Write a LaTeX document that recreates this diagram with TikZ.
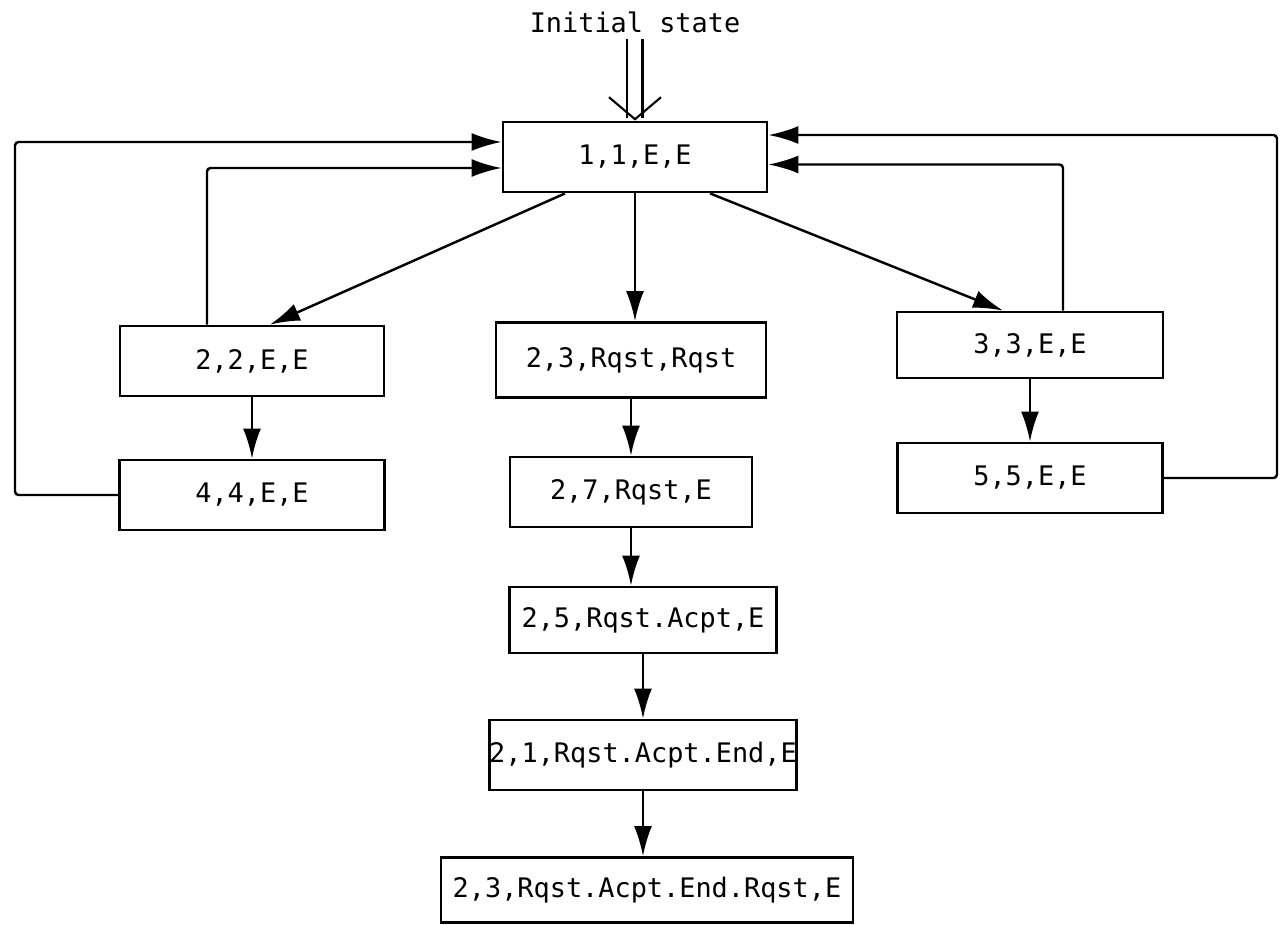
\documentclass[tikz,border=0pt]{standalone}
\usepackage{fontspec}
\setmonofont{DejaVu Sans Mono}
\usetikzlibrary{positioning,calc,arrows.meta}

\begin{document}
\begin{tikzpicture}[node distance=0.2cm,on grid,auto,
  >={Latex[length=6mm,width=3.6mm]},
  box/.style={draw,rectangle,line width=1.6pt,minimum height=1.4cm,inner xsep=0pt,inner ysep=1pt,
    font=\ttfamily\fontsize{15.3}{19}\selectfont},
  link/.style={->,line width=1.4pt,rounded corners=2pt}]
\useasboundingbox (-12.7,3.14) rectangle (12.92,-15.36);
\node[box,minimum width=5.28cm](q_0)[]{1,1,E,E};
\node[font=\ttfamily\fontsize{15.3}{19}\selectfont](init)[above=2.7cm of q_0]{Initial state};
\node[box,minimum width=5.28cm](q_1)[below left=4.08cm and 7.66cm of q_0]{2,2,E,E};
\node[box,minimum width=5.3cm](q_2)[below=2.68cm of q_1]{4,4,E,E};
\node[box,minimum width=5.4cm,minimum height=1.5cm](q_3)[below=4.06cm of q_0,xshift=-0.8mm]{2,3,Rqst,Rqst};
\node[box,minimum width=4.84cm](q_4)[below=2.64cm of q_3]{2,7,Rqst,E};
\node[box,minimum width=5.34cm,minimum height=1.32cm](q_5)[below=2.56cm of q_4,xshift=2.4mm]{2,5,Rqst.Acpt,E};
\node[box,minimum width=6.1cm](q_6)[below=2.7cm of q_5]{2,1,Rqst.Acpt.End,E};
\node[box,minimum width=8.24cm,minimum height=1.3cm](q_7)[below=2.7cm of q_6,xshift=0.8mm]{2,3,Rqst.Acpt.End.Rqst,E};
\node[box,minimum width=5.32cm,minimum height=1.32cm](q_8)[below right=3.76cm and 7.9cm of q_0]{3,3,E,E};
\node[box,minimum width=5.3cm](q_9)[below=2.66cm of q_8]{5,5,E,E};
\coordinate(l_0) at (-12.4,0);
\coordinate(r_0) at (12.84,0);
\draw[double,double distance=2.6mm,line width=1.2pt,-{Straight Barb[length=4.4mm,width=10.4mm]}] (init) -- (q_0);
\draw[link] ([xshift=-14mm]q_0.south) -- ([xshift=3.6mm]q_1.north);
\draw[link] (q_0.south) -- (q_0.south |- q_3.north);
\draw[link] ([xshift=15mm]q_0.south) -- ([xshift=-5.4mm]q_8.north);
\draw[link] (q_1) -- (q_2);
\draw[link] (q_8) -- (q_9);
\draw[link] (q_3.south) -- (q_3.south |- q_4.north);
\draw[link] (q_4.south) -- (q_4.south |- q_5.north);
\draw[link] (q_5.south) -- (q_5.south |- q_6.north);
\draw[link] (q_6.south) -- (q_6.south |- q_7.north);
\draw[link] ([xshift=-9mm]q_1.north) |- ([yshift=-2.2mm]q_0.west);
\draw[link] (q_2.west) -- (q_2.west -| l_0) |- ([yshift=3mm]q_0.west);
\draw[link] ([xshift=6.6mm]q_8.north) |- ([yshift=-1.5mm]q_0.east);
\draw[link] (q_9.east) -- (q_9.east -| r_0) |- ([yshift=4.4mm]q_0.east);
\end{tikzpicture}
\end{document}
